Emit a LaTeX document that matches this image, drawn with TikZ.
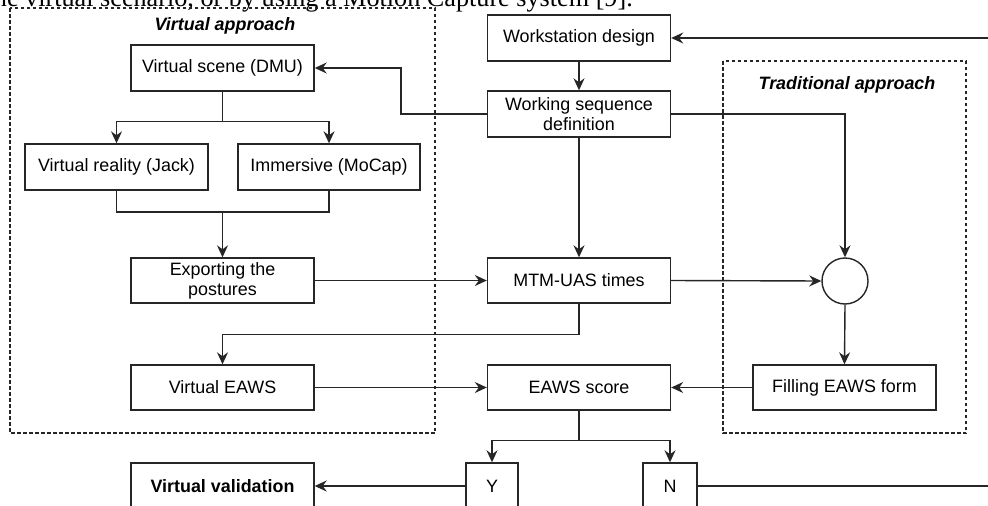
\documentclass[tikz,border=0pt]{standalone}
\usepackage{fontspec}
\setmainfont{Liberation Sans}
\newfontfamily\serifnote{Liberation Serif}
\usetikzlibrary{arrows.meta,positioning}
\begin{document}
\begin{tikzpicture}[x=1pt,y=-1pt,
  every node/.style={font=\fontsize{17.9}{20}\selectfont},
  box/.style={draw=black!85,line width=1.4pt,rectangle,minimum width=183pt,minimum height=46pt,align=center,inner sep=1pt},
  smallbox/.style={box,minimum width=53pt},
  grp/.style={draw=black!85,line width=1.2pt,dash pattern=on 3.5pt off 2.5pt},
  grplabel/.style={font=\fontsize{17.9}{20}\selectfont\bfseries\itshape},
  conn/.style={draw=black!85,line width=1.4pt},
  arr/.style={conn,-{Stealth[length=12pt,width=11pt,inset=4pt]}}
]
\useasboundingbox (0,0) rectangle (988,506);
\fill[white] (0,0) rectangle (988,506);
% cut-off caption line from surrounding text
\node[anchor=base east,inner sep=0pt,font=\fontsize{26.2}{28}\serifnote] (caption) at (633,6) {the virtual scenario, or by using a Motion Capture system [9].};
% group boxes
\draw[grp] (10,8) rectangle (435,433);
\draw[grp] (723,61) rectangle (966,433);
\node[grplabel] (vlab) at (225,26) {Virtual approach};
\node[grplabel] (tlab) at (847,85) {Traditional approach};
% nodes
\node[box] (dmu) at (222.5,68) {Virtual scene (DMU)};
\node[box] (jack) at (116.5,167) {Virtual reality (Jack)};
\node[box,minimum width=182pt] (mocap) at (329,167) {Immersive (MoCap)};
\node[box,minimum height=45pt] (exp) at (222.5,280.5) {Exporting the\\postures};
\node[box,minimum height=45pt] (veaws) at (222.5,387.5) {Virtual EAWS};
\node[box] (vval) at (222.5,486) {\bfseries Virtual validation};
\node[box] (wd) at (579,38) {Workstation design};
\node[box] (wsd) at (579,114) {Working sequence\\definition};
\node[box,minimum height=45pt] (mtm) at (579,280.5) {MTM-UAS times};
\node[box,minimum height=45pt] (eaws) at (579,387.5) {EAWS score};
\node[draw=black!85,line width=1.4pt,circle,minimum size=46pt,inner sep=0pt] (circ) at (845,281) {};
\node[box,minimum height=45pt] (fill) at (844.5,387.5) {Filling EAWS form};
\node[smallbox,minimum width=52pt] (yes) at (492,486) {Y};
\node[smallbox,minimum width=54pt] (no) at (670,486) {N};
\coordinate (rin) at (1000,38);
\coordinate (rout) at (1000,486);
\coordinate (merge) at (222.5,212);
% connectors
\draw[arr] (rin) -- (wd.east);
\draw[arr] (wd.south) -- (wsd.north);
\draw[arr] (wsd.west) -- ++(-86,0) |- (dmu.east);
\draw[arr] (wsd.east) -| (circ.north);
\draw[arr] (wsd.south) -- (mtm.north);
\draw[arr] (dmu.south) -- ++(0,30) -| (jack.north);
\draw[arr] (dmu.south) -- ++(0,30) -| (mocap.north);
\draw[conn] (jack.south) |- (merge) -| (mocap.south);
\draw[arr] (merge) -- (exp.north);
\draw[arr] (exp.east) -- (mtm.west);
\draw[arr] (mtm.east) -- (circ.west);
\draw[arr] (circ.south) -- (fill.north);
\draw[arr] (fill.west) -- (eaws.east);
\draw[arr] (veaws.east) -- (eaws.west);
\draw[arr] (mtm.south) -- ++(0,31) -| (veaws.north);
\draw[arr] (eaws.south) -- ++(0,30) -| (yes.north);
\draw[arr] (eaws.south) -- ++(0,30) -| (no.north);
\draw[arr] (yes.west) -- (vval.east);
\draw[conn] (no.east) -- (rout);
\end{tikzpicture}
\end{document}
